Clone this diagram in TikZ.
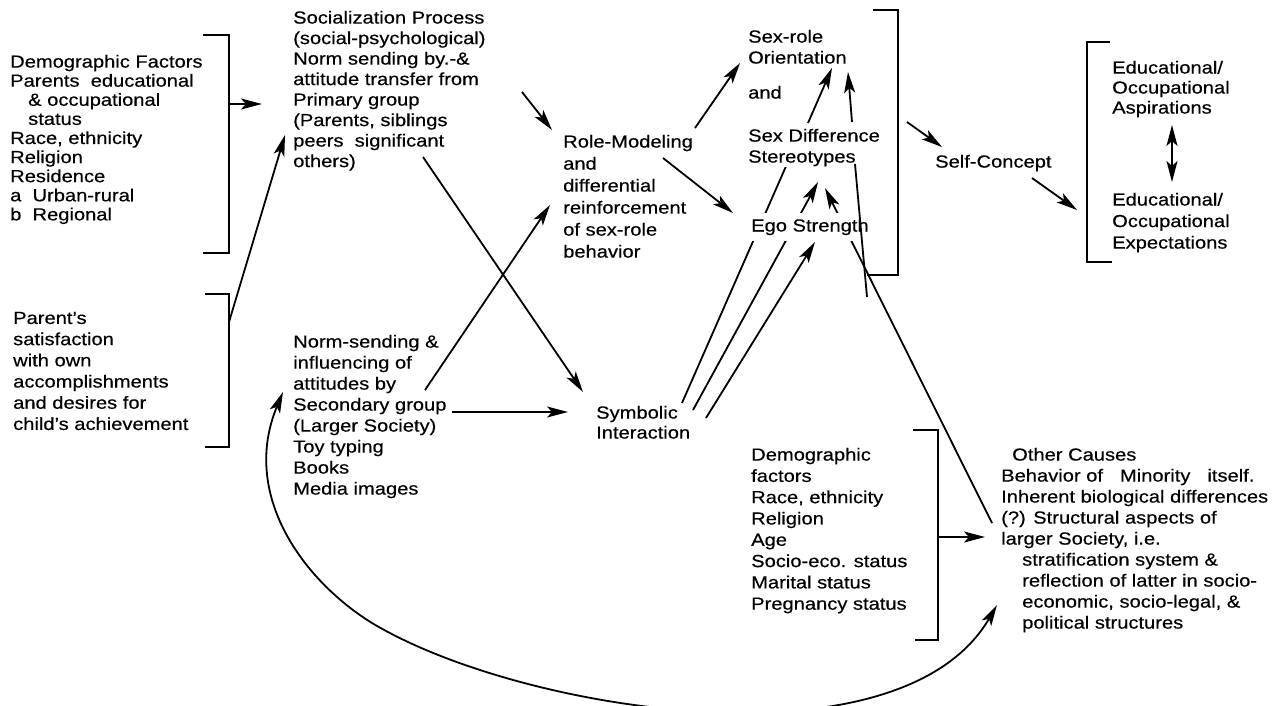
\documentclass[tikz,border=0pt]{standalone}
\usepackage{fontspec}
\setmainfont{Liberation Sans}[FakeStretch=1.15,FakeBold=0.4]
\usetikzlibrary{arrows.meta,backgrounds}
\begin{document}
\begin{tikzpicture}[x=1pt,y=-1pt,
  txt/.style={anchor=north west, inner sep=0pt, align=left,
              font=\fontsize{17.5}{#1}\selectfont},
  txt/.default=20,
  link/.style={line width=1.8pt},
  arr/.style={link, -{Stealth[length=21pt,width=11pt,inset=5pt]}},
  dbl/.style={link, {Stealth[length=21pt,width=11pt,inset=5pt]}-{Stealth[length=21pt,width=11pt,inset=5pt]}},
  brk/.style={line width=2.2pt, line join=miter}]
\useasboundingbox (0,0) rectangle (1280,706);

% ---------- text blocks ----------
\node[txt=19.1] (demo) at (10,54.7) {Demographic Factors\\Parents\ \ educational\\\hspace*{18pt}\& occupational\\\hspace*{18pt}status\\Race, ethnicity\\Religion\\Residence\\a\ \ Urban-rural\\b\ \ Regional};
\node[txt=21.2] (parent) at (13,311.7) {Parent's\\satisfaction\\with own\\accomplishments\\and desires for\\child's achievement};
\node[txt=20.5] (social) at (293,10.7) {Socialization Process\\(social-psychological)\\Norm sending by.-\&\\attitude transfer from\\Primary group\\(Parents, siblings\\peers\ \ significant\\others)};
\node[txt=22] (role) at (563,134.7) {Role-Modeling\\and\\differential\\reinforcement\\of sex-role\\behavior};
\node[txt=21] (orient) at (748,29.7) {Sex-role\\Orientation};
\node[txt] (and) at (748,85.7) {and};
\node[txt=21, fill=white, inner sep=1pt] (stereo) at (747,127.7) {Sex Difference\\Stereotypes};
\node[txt, fill=white, inner xsep=1pt, inner ysep=6pt, anchor=base west] (ego) at (750,231.5) {Ego Strength};
\node[txt] (self) at (935,154.7) {Self-Concept};
\node[txt=20] (asp) at (1112,60.7) {Educational/\\Occupational\\Aspirations};
\node[txt=21.5] (expect) at (1112,192.7) {Educational/\\Occupational\\Expectations};
\node[txt=21] (second) at (293,334.7) {Norm-sending \&\\influencing of\\attitudes by\\Secondary group\\(Larger Society)\\Toy typing\\Books\\Media images};
\node[txt=20] (symb) at (596,405.7) {Symbolic\\Interaction};
\node[txt=21.3] (demo2) at (751,447.7) {Demographic\\factors\\Race, ethnicity\\Religion\\Age\\Socio-eco. status\\Marital status\\Pregnancy status};
\node[txt=21] (other) at (1001,447.7) {\hspace*{11pt}Other Causes\\Behavior of\hspace{17pt}Minority\hspace{17pt}itself.\\Inherent biological differences\\(?) Structural aspects of\\larger Society, i.e.\\\hspace*{21pt}stratification system \&\\\hspace*{21pt}reflection of latter in socio-\\\hspace*{21pt}economic, socio-legal, \&\\\hspace*{21pt}political structures};

% ---------- connector end points ----------
\coordinate (b1out) at (229,104);   \coordinate (socL) at (262,104);
\coordinate (b2out) at (229,322);   \coordinate (socB) at (285,135);
\coordinate (socR) at (522,92);     \coordinate (roleL) at (552,130);
\coordinate (socD) at (423,157);    \coordinate (symbT) at (583,392);
\coordinate (secR) at (425,390);    \coordinate (roleB) at (550,205);
\coordinate (secM) at (452,412);    \coordinate (symbL) at (568,412);
\coordinate (roleU) at (695,128);   \coordinate (orientL) at (740,63);
\coordinate (roleD) at (663,158);   \coordinate (egoL) at (733,213);
\coordinate (stereoT) at (808,123); \coordinate (orientB) at (832,68);
\coordinate (symbA) at (682,403);   \coordinate (stereoA) at (787,164);
\coordinate (symbB) at (693,410);   \coordinate (stereoB) at (818,182);
\coordinate (symbC) at (706,418);   \coordinate (egoB) at (815,242);
\coordinate (otherL) at (992,523);  \coordinate (stereoC) at (825,188);
\coordinate (b3out) at (907,122);   \coordinate (selfL) at (942,147);
\coordinate (selfR) at (1032,178);  \coordinate (b4in) at (1077,210);
\coordinate (aspB) at (1172,125);   \coordinate (expT) at (1172,182);
\coordinate (b5out) at (938,537);   \coordinate (otherW) at (985,537);
\coordinate (secW) at (283,392);    \coordinate (otherB) at (997,605);
\coordinate (loopQ) at (372,623);
\coordinate (loose) at (867,297);   \coordinate (looseA) at (855,164);
\coordinate (looseB) at (852,122);  \coordinate (orientR) at (848,72);

\begin{scope}[on background layer]
\fill[white] (0,0) rectangle (1280,706);
% brackets grouping the factor lists
\draw[brk] (203,35) -- (229,35) -- (229,253) -- (203,253);
\draw[brk] (205,294) -- (229,294) -- (229,447) -- (205,447);
\draw[brk] (873,10) -- (898,10) -- (898,275) -- (867,275);
\draw[brk] (1110,42) -- (1087,42) -- (1087,262) -- (1112,262);
\draw[brk] (913,430) -- (938,430) -- (938,640) -- (915,640);

% influences
\draw[arr] (b1out) -- (socL);
\draw[arr] (b2out) -- (socB);
\draw[arr] (socR) -- (roleL);
\draw[arr] (socD) -- (symbT);
\draw[arr] (secR) -- (roleB);
\draw[arr] (secM) -- (symbL);
\draw[arr] (roleU) -- (orientL);
\draw[arr] (roleD) -- (egoL);
\draw[arr] (stereoT) -- (orientB);
\draw[link] (symbA) -- (stereoA);
\draw[arr] (symbB) -- (stereoB);
\draw[arr] (symbC) -- (egoB);
\draw[arr] (otherL) -- (stereoC);
\draw[arr] (b3out) -- (selfL);
\draw[arr] (selfR) -- (b4in);
\draw[dbl] (aspB) -- (expT);
\draw[arr] (b5out) -- (otherW);
% feedback loop between the larger society and other causes
\draw[dbl] (secW) .. controls (240,495) and (304,581) .. (loopQ)
           .. controls (520,712) and (900,772) .. (otherB);
\end{scope}

% line rising past the stereotypes to the orientation
\draw[link] (loose) -- (looseA);
\draw[arr] (looseB) -- (orientR);
\end{tikzpicture}
\end{document}
